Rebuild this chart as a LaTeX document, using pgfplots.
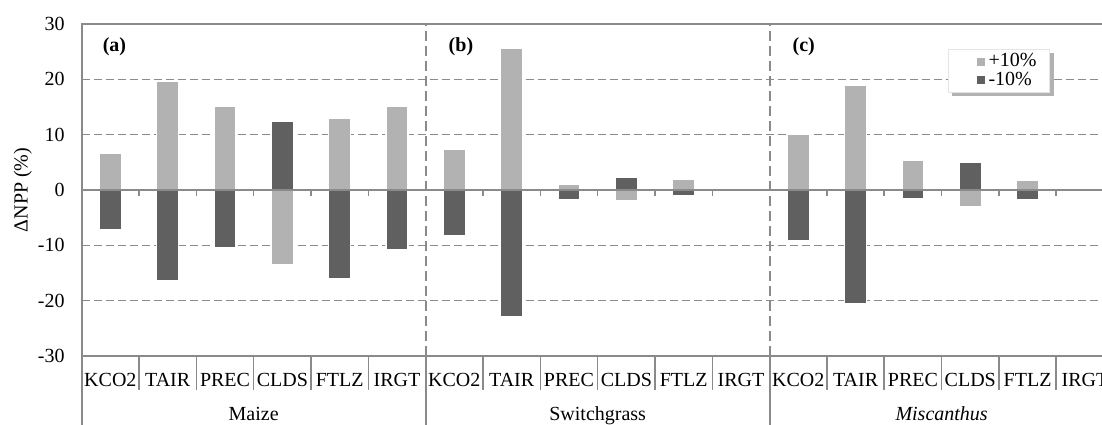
\documentclass[border=0pt]{standalone}
\usepackage{pgfplots}
\pgfplotsset{compat=1.18}
\usepackage{fontspec}
\setmainfont{Liberation Serif}
\usetikzlibrary{backgrounds}
\definecolor{lightbar}{HTML}{B2B2B2}
\definecolor{darkbar}{HTML}{606060}
\definecolor{axgray}{HTML}{8A8A8A}
\begin{document}
\begin{tikzpicture}[font=\fontsize{10}{12}\selectfont]
\begin{axis}[
  scale only axis,
  width=515.95pt, height=166pt,
  xmin=-0.5, xmax=17.5,
  ymin=-30, ymax=30,
  ytick={-30,-20,...,30},
  /pgf/number format/assume math mode=true,
  yticklabel style={xshift=-5pt},
  ymajorgrids,
  grid style={axgray, line width=0.65pt, dash pattern=on 4pt off 2pt},
  major tick length=0pt,
  axis line style={axgray, line width=1pt},
  xtick={0,...,17},
  xticklabels={KCO2,TAIR,PREC,CLDS,FTLZ,IRGT,KCO2,TAIR,PREC,CLDS,FTLZ,IRGT,KCO2,TAIR,PREC,CLDS,FTLZ,IRGT},
  xticklabel style={anchor=base, yshift=-15.3pt},
  ybar, bar width=11pt,
  clip=false,
  legend style={name=leg, at={(rel axis cs:0.8395,0.9247)}, anchor=north west, draw=white!90!black, fill=white,
    inner xsep=5pt, inner ysep=0.5pt, row sep=-2pt, cells={anchor=west},
    nodes={inner xsep=1.5pt, inner ysep=1.5pt}},
  legend image code/.code={\path (0pt,0pt) -- (13pt,0pt); \fill[#1, draw=none] (9pt,-2pt) rectangle (13pt,2pt);},
]
% vertical dashed separators
\draw[axgray, line width=1pt, dash pattern=on 5pt off 2.5pt] (axis cs:5.5,-30) -- (axis cs:5.5,30);
\draw[axgray, line width=1pt, dash pattern=on 5pt off 2.5pt] (axis cs:11.5,-30) -- (axis cs:11.5,30);

\addplot[fill=lightbar, draw=white, line width=0.6pt, bar shift=0pt] coordinates {
 (0,6.6) (1,19.6) (2,15.2) (3,-13.4) (4,13.0) (5,15.1)
 (6,7.4) (7,25.6) (8,1.1) (9,-2.0) (10,1.9)
 (12,10.0) (13,18.9) (14,5.3) (15,-3.0) (16,1.8)
};
\addlegendentry{+10\%\hspace{9pt}}
\addplot[fill=darkbar, draw=white, line width=0.6pt, bar shift=0pt] coordinates {
 (0,-7.2) (1,-16.3) (2,-10.4) (3,12.4) (4,-16.1) (5,-10.85)
 (6,-8.2) (7,-22.8) (8,-1.7) (9,2.3) (10,-1.0)
 (12,-9.2) (13,-20.6) (14,-1.5) (15,4.9) (16,-1.8)
};
\addlegendentry{-10\%}

% zero line
\draw[axgray, line width=1pt] (axis cs:-0.5,0) -- (axis cs:17.5,0);
\pgfplotsinvokeforeach{0.5,1.5,2.5,3.5,4.5,6.5,7.5,8.5,9.5,10.5,12.5,13.5,14.5,15.5,16.5}{
  \draw[axgray, line width=0.8pt] (axis cs:#1,0) -- ++(0pt,-2.8pt);
  \draw[axgray, line width=0.8pt] (axis cs:#1,-30) -- ++(0pt,-17pt);
}
\pgfplotsinvokeforeach{-0.5,5.5,11.5}{
  \draw[axgray, line width=1pt] (axis cs:#1,-30) -- ++(0pt,-40pt);
}
% y label
\node[rotate=90, anchor=center] at ([xshift=-29.5pt]axis cs:-0.5,0) {ΔNPP (\%)};
% group labels
\node[anchor=base] at (axis cs:2.5,-30) [yshift=-32pt] {Maize};
\node[anchor=base] at (axis cs:8.5,-30) [yshift=-32pt] {Switchgrass};
\node[anchor=base] at (axis cs:14.5,-30) [yshift=-32pt] {\itshape Miscanthus};
% panel labels
\node[anchor=west, font=\fontsize{10}{12}\selectfont\bfseries] at (axis cs:-0.5,30) [xshift=7pt, yshift=-11.3pt] {(a)};
\node[anchor=west, font=\fontsize{10}{12}\selectfont\bfseries] at (axis cs:5.5,30) [xshift=8pt, yshift=-11.3pt] {(b)};
\node[anchor=west, font=\fontsize{10}{12}\selectfont\bfseries] at (axis cs:11.5,30) [xshift=8pt, yshift=-11.3pt] {(c)};
\coordinate (SW) at (axis cs:-0.5,-30);
\end{axis}
\begin{scope}[on background layer]
  \fill[black, opacity=0.3] ([xshift=2pt,yshift=-2pt]leg.south west) rectangle ([xshift=2pt,yshift=-2pt]leg.north east);
\end{scope}
\pgfresetboundingbox
\path[use as bounding box] ([xshift=-40.85pt,yshift=-34pt]SW) rectangle ++(551pt,212pt);
\end{tikzpicture}
\end{document}
